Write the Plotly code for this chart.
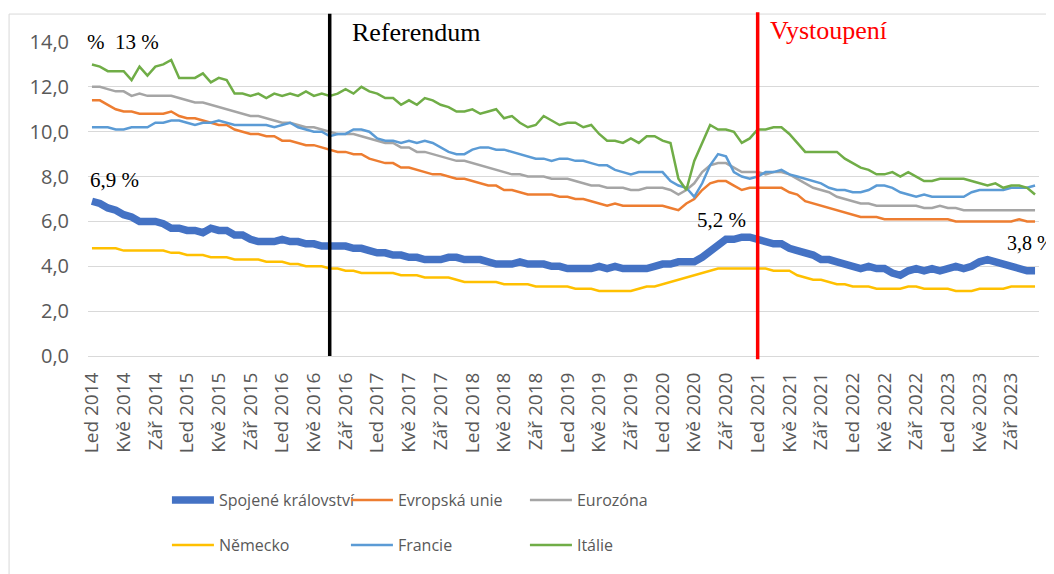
import plotly.graph_objects as go

# monthly unemployment rate, Jan 2014 .. Dec 2023 (%)
months_cz = ["Led", "Úno", "Bře", "Dub", "Kvě", "Čvn", "Čvc", "Srp", "Zář", "Říj", "Lis", "Pro"]
years = list(range(2014, 2024))
months = [f"{m} {y}" for y in years for m in months_cz]
tick_idx = list(range(0, 120, 4))
tick_text = [months[i] for i in tick_idx]

uk = [6.9, 6.8, 6.6, 6.5, 6.3, 6.2, 6.0, 6.0, 6.0, 5.9, 5.7, 5.7,
      5.6, 5.6, 5.5, 5.7, 5.6, 5.6, 5.4, 5.4, 5.2, 5.1, 5.1, 5.1,
      5.2, 5.1, 5.1, 5.0, 5.0, 4.9, 4.9, 4.9, 4.9, 4.8, 4.8, 4.7,
      4.6, 4.6, 4.5, 4.5, 4.4, 4.4, 4.3, 4.3, 4.3, 4.4, 4.4, 4.3,
      4.3, 4.3, 4.2, 4.1, 4.1, 4.1, 4.2, 4.1, 4.1, 4.1, 4.0, 4.0,
      3.9, 3.9, 3.9, 3.9, 4.0, 3.9, 4.0, 3.9, 3.9, 3.9, 3.9, 4.0,
      4.1, 4.1, 4.2, 4.2, 4.2, 4.4, 4.7, 5.0, 5.2, 5.2, 5.3, 5.3,
      5.2, 5.1, 5.0, 5.0, 4.8, 4.7, 4.6, 4.5, 4.3, 4.3, 4.2, 4.1,
      4.0, 3.9, 4.0, 3.9, 3.9, 3.7, 3.6, 3.8, 3.9, 3.8, 3.9, 3.8,
      3.9, 4.0, 3.9, 4.0, 4.2, 4.3, 4.2, 4.1, 4.0, 3.9, 3.8, 3.8]

eu = [11.4, 11.4, 11.2, 11.0, 10.9, 10.9, 10.8, 10.8, 10.8, 10.8, 10.9, 10.7,
      10.6, 10.6, 10.5, 10.4, 10.3, 10.3, 10.1, 10.0, 9.9, 9.9, 9.8, 9.8,
      9.6, 9.6, 9.5, 9.4, 9.4, 9.3, 9.2, 9.1, 9.1, 9.0, 9.0, 8.8,
      8.7, 8.6, 8.6, 8.4, 8.4, 8.3, 8.2, 8.1, 8.1, 8.0, 7.9, 7.9,
      7.8, 7.7, 7.6, 7.6, 7.4, 7.4, 7.3, 7.2, 7.2, 7.2, 7.2, 7.1,
      7.1, 7.0, 7.0, 6.9, 6.8, 6.7, 6.8, 6.7, 6.7, 6.7, 6.7, 6.7,
      6.7, 6.6, 6.5, 6.8, 7.0, 7.4, 7.7, 7.8, 7.8, 7.6, 7.4, 7.5,
      7.5, 7.5, 7.5, 7.5, 7.3, 7.2, 6.9, 6.8, 6.7, 6.6, 6.5, 6.4,
      6.3, 6.2, 6.2, 6.2, 6.1, 6.1, 6.1, 6.1, 6.1, 6.1, 6.1, 6.1,
      6.1, 6.0, 6.0, 6.0, 6.0, 6.0, 6.0, 6.0, 6.0, 6.1, 6.0, 6.0]

ez = [12.0, 12.0, 11.9, 11.8, 11.8, 11.6, 11.7, 11.6, 11.6, 11.6, 11.6, 11.5,
      11.4, 11.3, 11.3, 11.2, 11.1, 11.0, 10.9, 10.8, 10.7, 10.7, 10.6, 10.5,
      10.4, 10.4, 10.3, 10.2, 10.2, 10.1, 10.0, 9.9, 9.9, 9.9, 9.8, 9.7,
      9.6, 9.5, 9.5, 9.3, 9.3, 9.1, 9.1, 9.0, 8.9, 8.8, 8.7, 8.7,
      8.6, 8.5, 8.4, 8.3, 8.2, 8.1, 8.1, 8.0, 8.0, 8.0, 7.9, 7.9,
      7.9, 7.8, 7.7, 7.6, 7.6, 7.5, 7.5, 7.5, 7.4, 7.4, 7.5, 7.5,
      7.5, 7.4, 7.2, 7.4, 7.7, 8.2, 8.5, 8.6, 8.6, 8.4, 8.2, 8.2,
      8.2, 8.1, 8.2, 8.2, 8.1, 7.9, 7.7, 7.5, 7.4, 7.3, 7.1, 7.0,
      6.9, 6.8, 6.8, 6.7, 6.7, 6.7, 6.7, 6.7, 6.7, 6.6, 6.6, 6.7,
      6.6, 6.6, 6.5, 6.5, 6.5, 6.5, 6.5, 6.5, 6.5, 6.5, 6.5, 6.5]

de = [4.8, 4.8, 4.8, 4.8, 4.7, 4.7, 4.7, 4.7, 4.7, 4.7, 4.6, 4.6,
      4.5, 4.5, 4.5, 4.4, 4.4, 4.4, 4.3, 4.3, 4.3, 4.3, 4.2, 4.2,
      4.2, 4.1, 4.1, 4.0, 4.0, 4.0, 3.9, 3.9, 3.8, 3.8, 3.7, 3.7,
      3.7, 3.7, 3.7, 3.6, 3.6, 3.6, 3.5, 3.5, 3.5, 3.5, 3.4, 3.3,
      3.3, 3.3, 3.3, 3.3, 3.2, 3.2, 3.2, 3.2, 3.1, 3.1, 3.1, 3.1,
      3.1, 3.0, 3.0, 3.0, 2.9, 2.9, 2.9, 2.9, 2.9, 3.0, 3.1, 3.1,
      3.2, 3.3, 3.4, 3.5, 3.6, 3.7, 3.8, 3.9, 3.9, 3.9, 3.9, 3.9,
      3.9, 3.9, 3.8, 3.8, 3.8, 3.6, 3.5, 3.4, 3.4, 3.3, 3.2, 3.2,
      3.1, 3.1, 3.1, 3.0, 3.0, 3.0, 3.0, 3.1, 3.1, 3.0, 3.0, 3.0,
      3.0, 2.9, 2.9, 2.9, 3.0, 3.0, 3.0, 3.0, 3.1, 3.1, 3.1, 3.1]

fr = [10.2, 10.2, 10.2, 10.1, 10.1, 10.2, 10.2, 10.2, 10.4, 10.4, 10.5, 10.5,
      10.4, 10.3, 10.4, 10.4, 10.5, 10.4, 10.3, 10.3, 10.3, 10.3, 10.3, 10.2,
      10.3, 10.4, 10.2, 10.1, 10.0, 10.0, 9.8, 9.9, 9.9, 10.1, 10.1, 10.0,
      9.7, 9.6, 9.6, 9.5, 9.6, 9.5, 9.6, 9.5, 9.3, 9.1, 9.0, 9.0,
      9.2, 9.3, 9.3, 9.2, 9.2, 9.1, 9.0, 8.9, 8.8, 8.8, 8.7, 8.8,
      8.8, 8.7, 8.7, 8.6, 8.5, 8.5, 8.3, 8.2, 8.1, 8.2, 8.2, 8.2,
      8.2, 7.8, 7.6, 7.5, 7.1, 7.7, 8.5, 9.0, 8.9, 8.2, 8.0, 7.9,
      8.0, 8.2, 8.2, 8.3, 8.1, 8.0, 7.9, 7.8, 7.7, 7.5, 7.4, 7.4,
      7.3, 7.3, 7.4, 7.6, 7.6, 7.5, 7.3, 7.2, 7.1, 7.2, 7.1, 7.1,
      7.1, 7.1, 7.1, 7.3, 7.4, 7.4, 7.4, 7.4, 7.5, 7.5, 7.5, 7.6]

it = [13.0, 12.9, 12.7, 12.7, 12.7, 12.3, 12.9, 12.5, 12.9, 13.0, 13.2, 12.4,
      12.4, 12.4, 12.6, 12.2, 12.4, 12.3, 11.7, 11.7, 11.6, 11.7, 11.5, 11.7,
      11.6, 11.7, 11.6, 11.8, 11.6, 11.7, 11.6, 11.7, 11.9, 11.7, 12.0, 11.8,
      11.7, 11.5, 11.5, 11.2, 11.4, 11.2, 11.5, 11.4, 11.2, 11.1, 10.9, 10.9,
      11.0, 10.8, 10.9, 11.0, 10.6, 10.7, 10.4, 10.2, 10.3, 10.7, 10.5, 10.3,
      10.4, 10.4, 10.2, 10.3, 9.9, 9.6, 9.6, 9.5, 9.7, 9.5, 9.8, 9.8,
      9.6, 9.5, 7.9, 7.4, 8.7, 9.5, 10.3, 10.1, 10.1, 10.0, 9.5, 9.7,
      10.1, 10.1, 10.2, 10.2, 9.9, 9.5, 9.1, 9.1, 9.1, 9.1, 9.1, 8.8,
      8.6, 8.4, 8.3, 8.1, 8.1, 8.2, 8.0, 8.2, 8.0, 7.8, 7.8, 7.9,
      7.9, 7.9, 7.9, 7.8, 7.7, 7.6, 7.7, 7.5, 7.6, 7.6, 7.5, 7.2]

series = [
    ("Spojené království", uk, "#4472C4", 7.5, "legend"),
    ("Evropská unie", eu, "#ED7D31", 2.5, "legend"),
    ("Eurozóna", ez, "#A5A5A5", 2.5, "legend"),
    ("Německo", de, "#FFC000", 2.5, "legend2"),
    ("Francie", fr, "#5B9BD5", 2.5, "legend2"),
    ("Itálie", it, "#70AD47", 2.5, "legend2"),
]

referendum_idx = months.index("Čvc 2016")
exit_idx = months.index("Led 2021")

x = list(range(len(months)))
fig = go.Figure()
for name, vals, color, w, leg in series:
    fig.add_trace(go.Scatter(x=x, y=vals, name=name, mode="lines",
                             line=dict(color=color, width=w), legend=leg,
                             hovertext=months, hoverinfo="text+y+name"))

# events
fig.add_shape(type="line", xref="x", yref="paper", x0=referendum_idx, x1=referendum_idx,
              y0=0, y1=1.09, line=dict(color="black", width=3.5))
fig.add_shape(type="line", xref="x", yref="paper", x0=exit_idx, x1=exit_idx,
              y0=-0.01, y1=1.095, line=dict(color="#FF0000", width=3.5))

# chart border
fig.add_shape(type="rect", xref="paper", yref="paper", x0=-0.083, x1=1.05, y0=-0.8, y1=1.089,
              line=dict(color="#D9D9D9", width=1), layer="below")

serif = "Liberation Serif"
lab = dict(family=serif, size=21, color="black")
fig.add_annotation(xref="paper", yref="paper", x=-0.003, y=1.0, text="%&nbsp;&nbsp;13 %",
                   showarrow=False, xanchor="left", yanchor="middle", font=lab)
fig.add_annotation(xref="paper", x=0.0, y=7.85, text="6,9 %", showarrow=False,
                   xanchor="left", yanchor="middle", font=lab)
fig.add_annotation(x=79.4, y=6.06, text="5,2 %", showarrow=False,
                   xanchor="center", yanchor="middle", font=lab)
fig.add_annotation(x=115.2, y=5.04, text="3,8 %", showarrow=False,
                   xanchor="left", yanchor="middle", font=dict(family=serif, size=20, color="black"))
fig.add_annotation(x=32.5, yref="paper", y=1.029, text="Referendum", showarrow=False,
                   xanchor="left", yanchor="middle", font=dict(family=serif, size=26, color="black"))
fig.add_annotation(x=85.3, yref="paper", y=1.038, text="Vystoupení", showarrow=False,
                   xanchor="left", yanchor="middle", font=dict(family=serif, size=26, color="#FF0000"))

legend_style = dict(orientation="h", yanchor="top", xanchor="left", x=0.083,
                    font=dict(family="Open Sans", size=16, color="#595959"),
                    entrywidth=122, entrywidthmode="pixels",
                    bgcolor="rgba(0,0,0,0)", itemwidth=42)

fig.update_layout(
    template="none",
    width=1054, height=574,
    margin=dict(l=80, r=23, t=34, b=226),
    paper_bgcolor="white", plot_bgcolor="white",
    separators=", ",
    font=dict(family="Open Sans", color="#595959"),
    showlegend=True,
    legend=dict(y=-0.405, **legend_style),
    legend2=dict(y=-0.548, **legend_style),
    xaxis=dict(range=[-0.5, 119.5], tickmode="array", tickvals=tick_idx, ticktext=tick_text,
               tickangle=-90, tickfont=dict(size=19, color="#595959"),
               showgrid=False, showline=True, linecolor="#D9D9D9", linewidth=1, ticks="",
               zeroline=False, ticklabelstandoff=8, automargin=False),
    yaxis=dict(range=[0, 14], dtick=2, tickformat=".1f", tickfont=dict(size=20, color="#595959"),
               gridcolor="#D9D9D9", gridwidth=1, zeroline=False, showline=False,
               ticks="", ticklabelstandoff=18, automargin=False),
)

fig.write_html("out.html")
